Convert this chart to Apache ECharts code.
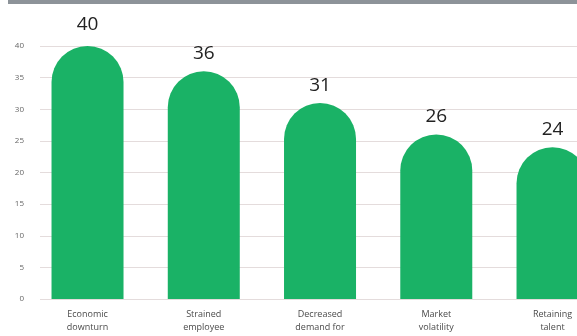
<!DOCTYPE html>
<html>
<head>
<meta charset="utf-8">
<script src="https://cdn.jsdelivr.net/npm/echarts@6/dist/echarts.min.js"></script>
<style>
  html, body { margin: 0; padding: 0; background: #fff; }
  #chart { width: 577px; height: 336px; }
</style>
</head>
<body>
<div id="chart"></div>
<script>
// Challenges reported by businesses (count of responses)
const categories = ['Economic\ndownturn', 'Strained\nemployee', 'Decreased\ndemand for', 'Market\nvolatility', 'Retaining\ntalent'];
const counts = [40, 36, 31, 26, 24];
const yTicks = { min: 0, max: 40, interval: 5 };

const chart = echarts.init(document.getElementById('chart'), null, { renderer: 'canvas' });

// the tallest bar's value label sits a little higher than the rest
const barData = counts.map((v, i) => i === 0 ? { value: v, label: { distance: 12 } } : v);

chart.setOption({
  animation: false,
  backgroundColor: '#ffffff',
  graphic: [
    { type: 'rect', shape: { x: 8, y: 0, width: 569, height: 4 }, style: { fill: '#8d9399' } }
  ],
  grid: [
    // value axis and gridlines
    { left: 40, right: 0, top: 46, bottom: 37, outerBoundsMode: 'none', containLabel: false },
    // bar area (continues past the right edge)
    { left: 29.4, width: 581.25, top: 46, bottom: 37, outerBoundsMode: 'none', containLabel: false }
  ],
  xAxis: [
    { type: 'category', gridIndex: 0, data: categories, show: false },
    {
      type: 'category', gridIndex: 1, data: categories,
      axisLine: { show: false }, axisTick: { show: false },
      axisLabel: {
        interval: 0, margin: 9, color: '#4a4a4a', fontSize: 9,
        lineHeight: 13, fontFamily: 'Open Sans'
      }
    }
  ],
  yAxis: [
    {
      type: 'value', gridIndex: 0, min: yTicks.min, max: yTicks.max, interval: yTicks.interval,
      axisLine: { show: false }, axisTick: { show: false },
      axisLabel: { color: '#666', fontSize: 8, margin: 16, fontFamily: 'Open Sans' },
      splitLine: { lineStyle: { color: '#e4dcdc', width: 1.2 } }
    },
    {
      type: 'value', gridIndex: 1, min: yTicks.min, max: yTicks.max, interval: yTicks.interval,
      show: false
    }
  ],
  series: [{
    type: 'bar',
    xAxisIndex: 1, yAxisIndex: 1,
    data: barData,
    barWidth: 72,
    itemStyle: { color: '#1ab266', borderRadius: [36, 36, 0, 0] },
    label: {
      show: true, position: 'top', distance: 8,
      color: '#222', fontSize: 19, fontFamily: 'Open Sans'
    }
  }]
});
</script>
</body>
</html>
